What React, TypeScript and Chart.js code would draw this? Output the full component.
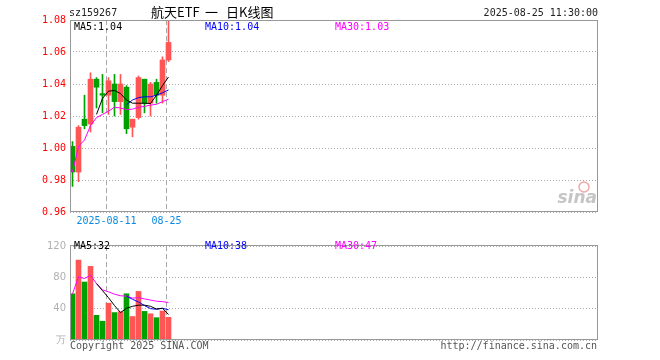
import React, { useEffect, useRef } from 'react';
import { Chart, registerables } from 'chart.js';

Chart.register(...registerables);

// ---------- data ----------
const tradeDates = ['08-01', '08-04', '08-05', '08-06', '08-07', '08-08', '08-11', '08-12', '08-13', '08-14', '08-15', '08-18', '08-19', '08-20', '08-21', '08-22', '08-25'];
const openPrices = [1.001, 0.985, 1.018, 1.015, 1.043, 1.034, 1.033, 1.040, 1.029, 1.038, 1.013, 1.019, 1.043, 1.028, 1.041, 1.033, 1.055];
const closePrices = [0.985, 1.013, 1.014, 1.043, 1.038, 1.033, 1.042, 1.029, 1.040, 1.012, 1.018, 1.044, 1.028, 1.040, 1.033, 1.055, 1.066];
const highPrices = [1.004, 1.014, 1.033, 1.047, 1.044, 1.046, 1.044, 1.046, 1.046, 1.039, 1.018, 1.045, 1.043, 1.041, 1.043, 1.057, 1.082];
const lowPrices = [0.976, 0.979, 1.012, 1.010, 1.025, 1.022, 1.021, 1.020, 1.021, 1.009, 1.007, 1.018, 1.022, 1.020, 1.028, 1.028, 1.054];

const priceMa5 = [null, null, null, null, 1.021, 1.031, 1.0355, 1.036, 1.034, 1.030, 1.028, 1.028, 1.028, 1.0278, 1.033, 1.039, 1.0444];
const priceMa10 = [null, null, null, null, null, null, null, null, null, 1.027, 1.030, 1.0315, 1.032, 1.032, 1.033, 1.0345, 1.0363];
const priceMa30 = [0.985, 1.001, 1.005, 1.014, 1.019, 1.021, 1.023, 1.0255, 1.025, 1.024, 1.0243, 1.0255, 1.026, 1.0268, 1.0273, 1.029, 1.0305];

const volumes = [59, 102, 74, 94, 31.5, 24, 47, 35, 36, 59, 30, 62, 36.5, 33.5, 28.5, 37, 29];
const volMa5 = [null, null, null, null, 72, 63, 54, 44, 35, 40.5, 43, 44.5, 44.5, 43, 39.5, 40.5, 32.5];
const volMa10 = [null, null, null, null, null, null, null, null, null, 56, 52, 48.5, 44, 40, 39.3, 40.5, 38.6];
const volMa30 = [59, 80.5, 78.5, 82.5, 72, 64, 61.5, 58.5, 56.5, 56, 53.5, 54, 52.5, 51, 49.5, 49, 47.8];

const priceTicks = [0.96, 0.98, 1.0, 1.02, 1.04, 1.06, 1.08];
const volTicks = [0, 40, 80, 120];
const volTickLabels = ['万', '40', '80', '120'];
const dateTickKeys = ['08-11', '08-25'];
const dateTickLabels = ['2025-08-11', '08-25'];

const headerCode = 'sz159267';
const headerTitleParts = ['航天ETF', '一', '日K线图'];
const headerTime = '2025-08-25 11:30:00';
const priceLegend = ['MA5:1.04', 'MA10:1.04', 'MA30:1.03'];
const volLegend = ['MA5:32', 'MA10:38', 'MA30:47'];
const footerLeft = 'Copyright 2025 SINA.COM';
const footerRight = 'http://finance.sina.com.cn';

// ---------- style ----------
const RED = '#ff5555';
const GREEN = '#00a000';
const MA_COLORS = ['#000000', '#0000ff', '#ff00ff'];
const MONO = "'DejaVu Sans Mono', monospace";
const GRID = '#a8a8a8';
const BORDER = '#999999';
const X_MIN = -5 / 12;
const X_MAX = X_MIN + 527 / 6;
const TICK_SHIFT = 1 / 3;
const TITLE_X = [151, 205, 226];
const LEGEND_X = [74, 205, 335];

const idx = tradeDates.map((_, i) => i);
const candleColors = idx.map((i) => (closePrices[i] >= openPrices[i] ? RED : GREEN));
const pts = (arr: (number | null)[]) =>
  arr.map((v, i) => (v == null ? null : { x: i, y: v })).filter((p) => p !== null) as { x: number; y: number }[];
const dateTickValues = dateTickKeys.map((k) => tradeDates.indexOf(k) - TICK_SHIFT);

const lineDs = (arr: (number | null)[], color: string) => ({
  type: 'line' as const,
  data: pts(arr),
  borderColor: color,
  borderWidth: 1,
  pointRadius: 0,
  tension: 0,
  fill: false,
  order: 0,
});

const makeXScale = (showLabels: boolean, height: number) => ({
  type: 'linear' as const,
  min: X_MIN,
  max: X_MAX,
  offset: false,
  afterBuildTicks: (s: any) => {
    s.ticks = dateTickValues.map((v) => ({ value: v }));
  },
  afterFit: (s: any) => {
    s.height = height;
  },
  grid: { offset: false, color: GRID, drawTicks: false, lineWidth: 1, borderDash: [5, 3] },
  border: { display: false, dash: [5, 3] },
  ticks: {
    display: showLabels,
    color: '#0a8ae0',
    font: { family: MONO, size: 10 },
    padding: 3,
    autoSkip: false,
    maxRotation: 0,
    minRotation: 0,
    callback: (_v: any, i: number) => dateTickLabels[i],
  },
});

function textPlugin(draw: (ctx: CanvasRenderingContext2D, chart: any) => void) {
  return {
    id: 'texts',
    afterDraw(chart: any) {
      const ctx = chart.ctx as CanvasRenderingContext2D;
      ctx.save();
      draw(ctx, chart);
      ctx.restore();
    },
  };
}

export default function App() {
  const topRef = useRef<HTMLCanvasElement>(null);
  const volRef = useRef<HTMLCanvasElement>(null);

  useEffect(() => {
    const priceChart = new Chart(topRef.current as HTMLCanvasElement, {
      type: 'bar',
      data: {
        datasets: [
          lineDs(priceMa5, MA_COLORS[0]),
          lineDs(priceMa10, MA_COLORS[1]),
          lineDs(priceMa30, MA_COLORS[2]),
          {
            type: 'bar',
            data: idx.map((i) => ({ x: i, y: [openPrices[i], closePrices[i]] })),
            backgroundColor: candleColors,
            barThickness: 5,
            grouped: false,
            minBarLength: 1,
            borderWidth: 0,
            order: 1,
          } as any,
          {
            type: 'bar',
            data: idx.map((i) => ({ x: i, y: [lowPrices[i], highPrices[i]] })),
            backgroundColor: candleColors,
            barThickness: 1,
            grouped: false,
            borderWidth: 0,
            order: 2,
          } as any,
        ],
      },
      options: {
        animation: false,
        responsive: false,
        devicePixelRatio: 1,
        events: [],
        layout: { padding: { left: 0, right: 63, top: 20, bottom: 0 } },
        plugins: { legend: { display: false }, tooltip: { enabled: false } },
        scales: {
          x: makeXScale(true, 24) as any,
          y: {
            min: 0.96,
            max: 1.08,
            afterBuildTicks: (s: any) => {
              s.ticks = priceTicks.map((v) => ({ value: v }));
            },
            afterFit: (s: any) => {
              s.width = 70;
            },
            grid: { color: GRID, drawTicks: false, lineWidth: 1, borderDash: [1, 2] },
            border: { display: false, dash: [1, 2] },
            ticks: {
              color: '#ff0000',
              font: { family: MONO, size: 10 },
              padding: 4,
              callback: (v: any) => Number(v).toFixed(2),
            },
          } as any,
        },
      },
      plugins: [
        textPlugin((ctx, chart) => {
          const a = chart.chartArea;
          ctx.strokeStyle = BORDER;
          ctx.lineWidth = 1;
          ctx.strokeRect(a.left + 0.5, a.top + 0.5, a.right - a.left, a.bottom - a.top - 1);
          ctx.textBaseline = 'middle';
          ctx.font = `10px ${MONO}`;
          ctx.fillStyle = '#222';
          ctx.textAlign = 'left';
          ctx.fillText(headerCode, 69, 13);
          ctx.textAlign = 'right';
          ctx.fillText(headerTime, 598, 13);
          ctx.textAlign = 'left';
          ctx.font = "13px 'Noto Sans CJK SC', sans-serif";
          ctx.fillStyle = '#000';
          headerTitleParts.forEach((t, i) => ctx.fillText(t, TITLE_X[i], 12));
          ctx.font = `10px ${MONO}`;
          priceLegend.forEach((t, i) => {
            ctx.fillStyle = MA_COLORS[i];
            ctx.fillText(t, LEGEND_X[i], 27);
          });
          // sina watermark
          ctx.globalAlpha = 0.5;
          ctx.fillStyle = '#8c8c8c';
          ctx.textAlign = 'right';
          ctx.font = "italic bold 17px 'DejaVu Sans', sans-serif";
          ctx.fillText('sina', 597, 199);
          ctx.strokeStyle = '#e05050';
          ctx.lineWidth = 1.5;
          ctx.beginPath();
          ctx.arc(584, 187, 5, 0, Math.PI * 2);
          ctx.stroke();
          ctx.globalAlpha = 1;
        }),
      ],
    });

    const volChart = new Chart(volRef.current as HTMLCanvasElement, {
      type: 'bar',
      data: {
        datasets: [
          lineDs(volMa5, MA_COLORS[0]),
          lineDs(volMa10, MA_COLORS[1]),
          lineDs(volMa30, MA_COLORS[2]),
          {
            type: 'bar',
            data: idx.map((i) => ({ x: i, y: volumes[i] })),
            backgroundColor: candleColors,
            barThickness: 5,
            grouped: false,
            borderWidth: 0,
            order: 1,
          } as any,
        ],
      },
      options: {
        animation: false,
        responsive: false,
        devicePixelRatio: 1,
        events: [],
        layout: { padding: { left: 0, right: 63, top: 5, bottom: 0 } },
        plugins: { legend: { display: false }, tooltip: { enabled: false } },
        scales: {
          x: makeXScale(false, 20) as any,
          y: {
            min: 0,
            max: 120,
            afterBuildTicks: (s: any) => {
              s.ticks = volTicks.map((v) => ({ value: v }));
            },
            afterFit: (s: any) => {
              s.width = 70;
            },
            grid: { color: GRID, drawTicks: false, lineWidth: 1, borderDash: [1, 2] },
            border: { display: false, dash: [1, 2] },
            ticks: {
              color: '#b0b0b0',
              font: { family: "'DejaVu Sans', sans-serif", size: 10 },
              padding: 4,
              callback: (_v: any, i: number) => volTickLabels[i],
            },
          } as any,
        },
      },
      plugins: [
        textPlugin((ctx, chart) => {
          const a = chart.chartArea;
          ctx.strokeStyle = BORDER;
          ctx.lineWidth = 1;
          ctx.strokeRect(a.left + 0.5, a.top - 0.5, a.right - a.left, a.bottom - a.top);
          ctx.textBaseline = 'middle';
          ctx.font = `10px ${MONO}`;
          ctx.textAlign = 'left';
          volLegend.forEach((t, i) => {
            ctx.fillStyle = MA_COLORS[i];
            ctx.fillText(t, LEGEND_X[i], 10.5);
          });
          ctx.fillStyle = '#555';
          ctx.fillText(footerLeft, 70, 110);
          ctx.textAlign = 'right';
          ctx.fillText(footerRight, 597, 110);
        }),
      ],
    });

    return () => {
      priceChart.destroy();
      volChart.destroy();
    };
  }, []);

  return (
    <div style={{ position: 'absolute', left: 0, top: 0, width: 660, height: 360, background: '#fff' }}>
      <canvas ref={topRef} width={660} height={236} style={{ position: 'absolute', left: 0, top: 0, width: 660, height: 236 }} />
      <canvas ref={volRef} width={660} height={124} style={{ position: 'absolute', left: 0, top: 236, width: 660, height: 124 }} />
    </div>
  );
}
